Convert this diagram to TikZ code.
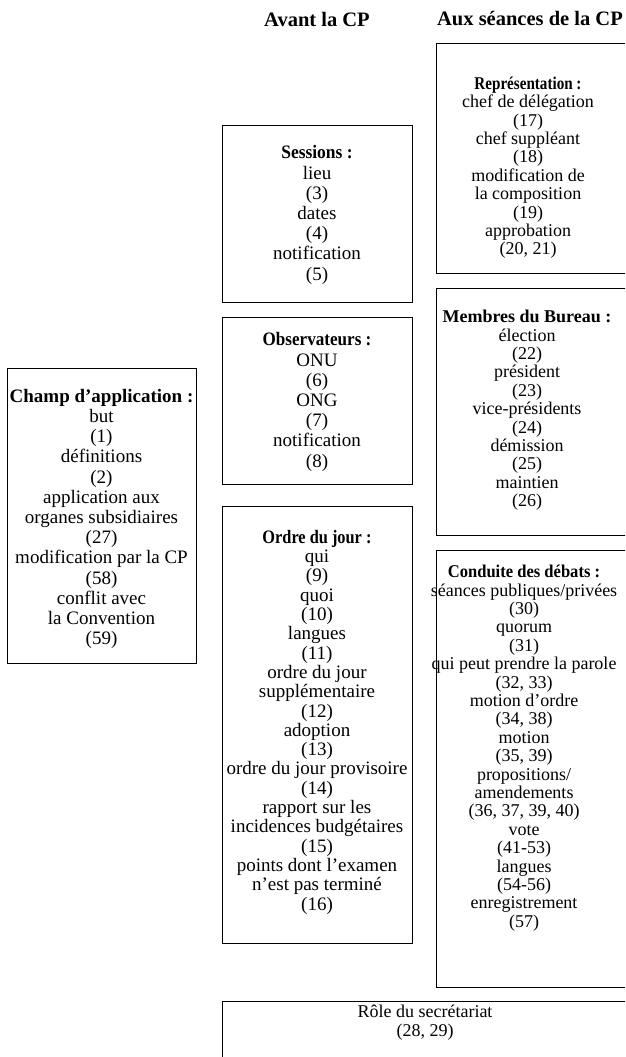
\documentclass[tikz,border=0pt]{standalone}
\usepackage{graphicx}
\usepackage{fontspec}
\setmainfont{Liberation Serif}
\newcommand{\ttlsq}[2]{\scalebox{#1}[1]{\textbf{#2}}}
\begin{document}
\begin{tikzpicture}[x=1pt,y=-1pt,
  frame/.style={draw=black, line width=1.1pt, inner sep=0pt, anchor=north west},
  txt/.style={align=center, inner sep=0pt, anchor=north, font=\fontsize{19}{20.2}\selectfont},
  otxt/.style={txt, font=\fontsize{19}{19.3}\selectfont},
  rtxt/.style={txt, font=\fontsize{18}{18.4}\selectfont},
  head/.style={font=\fontsize{20.5}{24}\selectfont\bfseries}]
\useasboundingbox (0,0) rectangle (625,1057);
\clip (0,0) rectangle (625,1057);

\node[head] (h1) at (317,19) {Avant la CP};
\node[head] (h2) at (530,19) {Aux séances de la CP};

% left column
\node[frame, minimum width=189pt, minimum height=295pt] (champF) at (7,368) {};
\node[txt] (champ) at (101.5,389) {\textbf{Champ d’application~:}\\but\\(1)\\définitions\\(2)\\application aux\\organes subsidiaires\\(27)\\modification par la CP\\(58)\\conflit avec\\la Convention\\(59)};

% middle column
\node[frame, minimum width=190pt, minimum height=177pt] (sessF) at (222,125) {};
\node[txt] (sess) at (317,145.5) {\ttlsq{0.92}{Sessions~:}\\lieu\\(3)\\dates\\(4)\\notification\\(5)};

\node[frame, minimum width=190pt, minimum height=167pt] (obsF) at (222,317) {};
\node[txt] (obs) at (317,332.5) {\ttlsq{0.9}{Observateurs~:}\\ONU\\(6)\\ONG\\(7)\\notification\\(8)};

\node[frame, minimum width=190pt, minimum height=437pt] (odjF) at (222,506) {};
\node[otxt] (odj) at (317,530) {\ttlsq{0.86}{Ordre du jour~:}\\qui\\(9)\\quoi\\(10)\\langues\\(11)\\ordre du jour\\supplémentaire\\(12)\\adoption\\(13)\\ordre du jour provisoire\\(14)\\rapport sur les\\incidences budgétaires\\(15)\\points dont l’examen\\n’est pas terminé\\(16)};

% right column
\node[frame, minimum width=210pt, minimum height=230pt] (repF) at (436,43) {};
\node[rtxt] (rep) at (528,76.5) {\ttlsq{0.84}{Représentation~:}\\chef de délégation\\(17)\\chef suppléant\\(18)\\modification de\\la composition\\(19)\\approbation\\(20, 21)};

\node[frame, minimum width=210pt, minimum height=247pt] (burF) at (436,288) {};
\node[rtxt] (bur) at (527,310) {\textbf{Membres du Bureau~:}\\élection\\(22)\\président\\(23)\\vice-présidents\\(24)\\démission\\(25)\\maintien\\(26)};

\node[frame, minimum width=210pt, minimum height=437pt] (condF) at (436,550) {};
\node[rtxt] (cond) at (524,565) {\ttlsq{0.92}{Conduite des débats~:}\\séances publiques/privées\\(30)\\quorum\\(31)\\qui peut prendre la parole\\(32, 33)\\motion d’ordre\\(34, 38)\\motion\\(35, 39)\\propositions/\\amendements\\(36, 37, 39, 40)\\vote\\(41-53)\\langues\\(54-56)\\enregistrement\\(57)};

% bottom
\node[frame, minimum width=420pt, minimum height=90pt] (secF) at (222,1001) {};
\node[rtxt] (sec) at (425,1005) {Rôle du secrétariat\\(28, 29)};
\end{tikzpicture}
\end{document}
